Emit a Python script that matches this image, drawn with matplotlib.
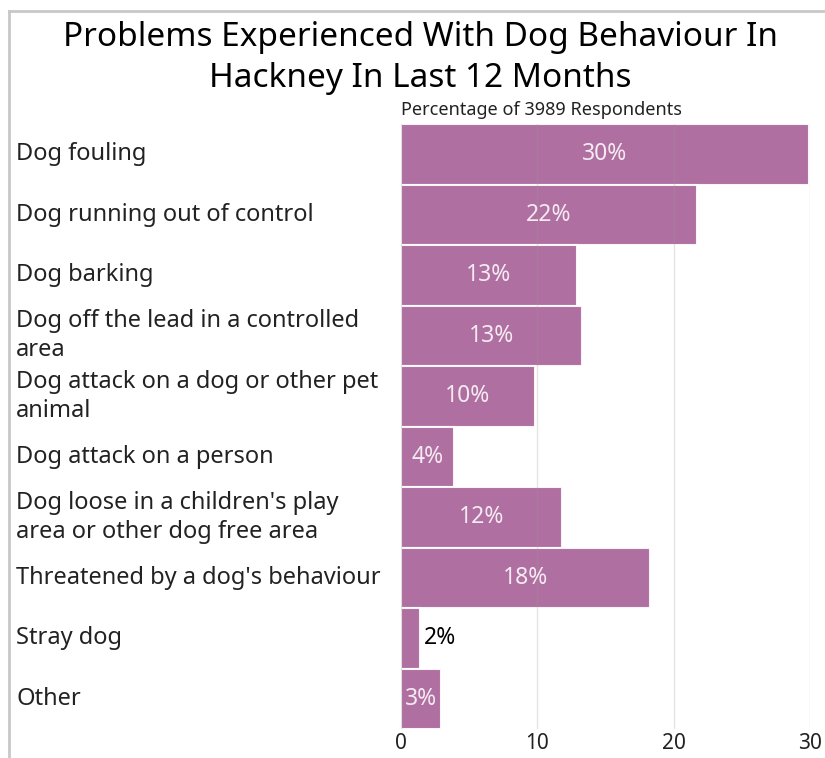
import matplotlib
matplotlib.use("Agg")
import matplotlib.pyplot as plt

categories = [
    "Dog fouling",
    "Dog running out of control",
    "Dog barking",
    "Dog off the lead in a controlled\narea",
    "Dog attack on a dog or other pet\nanimal",
    "Dog attack on a person",
    "Dog loose in a children's play\narea or other dog free area",
    "Threatened by a dog's behaviour",
    "Stray dog",
    "Other",
]
values = [29.9, 21.7, 12.9, 13.3, 9.8, 3.9, 11.8, 18.3, 1.4, 2.9]
labels = ["30", "22", "13", "13", "10", "4", "12", "18", "2", "3"]
xticks = [0, 10, 20, 30]

plt.rcParams['font.family'] = ['Noto Sans', 'DejaVu Sans']

W, H = 825, 758
fig = plt.figure(figsize=(W / 100, H / 100), dpi=100)
ax = fig.add_axes([401 / W, 1 - 729 / H, (810 - 401) / W, (729 - 124) / H])

color = "#a96399"
y = list(range(len(categories)))
ax.barh(y, values, height=1.0, color=color, alpha=0.92, edgecolor="white", linewidth=1.5, zorder=2)
ax.set_ylim(len(categories) - 0.5, -0.5)
ax.set_xlim(0, 30)
ax.set_xticks(xticks)
ax.set_xticklabels([str(t) for t in xticks], fontsize=15, color="#222222")
ax.set_yticks([])
ax.tick_params(axis='x', length=0, pad=3)
for s in ax.spines.values():
    s.set_visible(False)
for t in xticks:
    ax.axvline(t, color="#999999", alpha=0.25, linewidth=1, zorder=3)

for i, (v, lab) in enumerate(zip(values, labels)):
    if v >= 2.5:
        ax.text(v / 2, i, lab + "%", ha="center", va="center", color="#f4eaf1", fontsize=16.5, zorder=4)
    else:
        ax.text(v + 0.3, i, lab + "%", ha="left", va="center", color="black", fontsize=16.5, zorder=4)

for i, c in enumerate(categories):
    yc = 1 - (124 + (i + 0.5) * 60.5) / H
    fig.text(16 / W, yc, c, ha="left", va="center", fontsize=17, color="#222222", linespacing=1.3)

fig.text(0.5 * (16 + 825) / W, 1 - 58 / H, "Problems Experienced With Dog Behaviour In\nHackney In Last 12 Months",
         ha="center", va="center", fontsize=24, color="black", linespacing=1.3)
fig.text(401 / W, 1 - 110 / H, "Percentage of 3989 Respondents", ha="left", va="center", fontsize=13, color="#222222")

fig.add_artist(plt.Line2D([8.5 / W, 8.5 / W], [0, 1 - 10.5 / H], color="#c8c8c8", linewidth=2, transform=fig.transFigure))
fig.add_artist(plt.Line2D([8.5 / W, 1], [1 - 10.5 / H, 1 - 10.5 / H], color="#c8c8c8", linewidth=2, transform=fig.transFigure))

fig.savefig("out.png", dpi=100)
